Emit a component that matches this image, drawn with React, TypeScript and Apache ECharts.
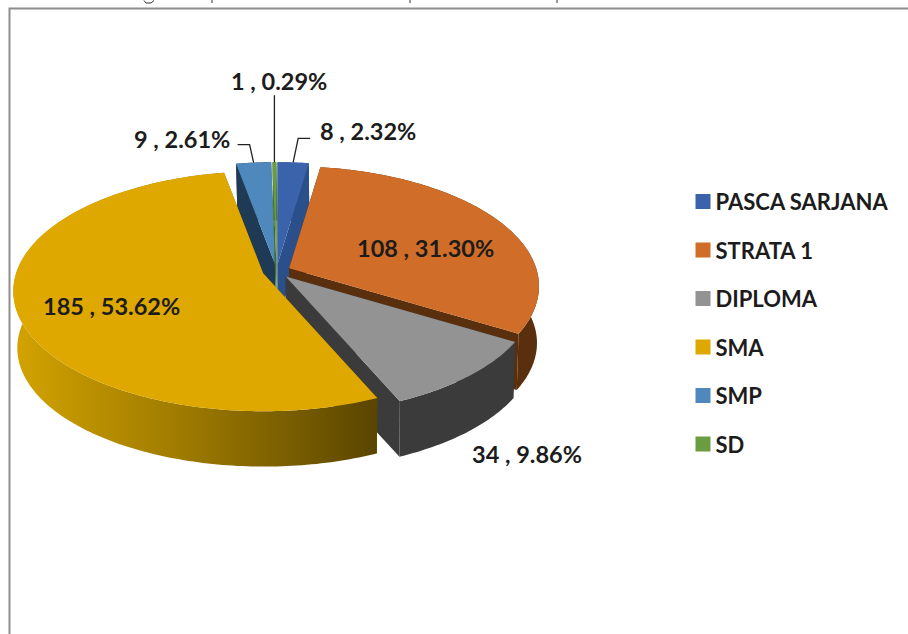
import React, { useEffect, useRef } from "react";
import * as echarts from "echarts";

const categories = ["PASCA SARJANA", "STRATA 1", "DIPLOMA", "SMA", "SMP", "SD"];
const values = [8, 108, 34, 185, 9, 1];
const topColors = ["#3a63ab", "#d06d28", "#939393", "#dfa800", "#4e88bd", "#6a9d3f"];
const sideColors = ["#2b4f8a", "#5a2f0d", "#3b3b3b", "#8a6a00", "#1f3a55", "#3e6b2a"];
// back-to-front painting order of the slices
const drawOrder = [4, 5, 0, 1, 2, 3];

const total = values.reduce((a, b) => a + b, 0);
const starts: number[] = [];
values.reduce((acc, v, i) => {
  starts[i] = acc;
  return acc + (v / total) * 360;
}, 0);
const ends = values.map((v, i) => starts[i] + (v / total) * 360);
const pctLabel = (i: number) => `${values[i]} , ${((values[i] / total) * 100).toFixed(2)}%`;

// projection of the tilted pie
const CX = 276.5, CY = 271.2, RX = 247, RY = 117.3, PERSP = 0.15, DEPTH = 57, BOTTOM_SCALE = 0.988, BOTTOM_SHIFT = 1;
const EXPLODE_X = 14, EXPLODE_Y = 7;
const rad = (d: number) => (d * Math.PI) / 180;

const apexOf = (i: number) => {
  const mid = rad((starts[i] + ends[i]) / 2);
  return [CX + EXPLODE_X * Math.sin(mid), CY - EXPLODE_Y * Math.cos(mid)];
};
const project = (a: number[], deg: number, bottom: boolean) => {
  const t = rad(deg);
  const w = 1 + PERSP * Math.cos(t);
  const s = bottom ? BOTTOM_SCALE : 1;
  return [
    a[0] + (RX * s * Math.sin(t)) / w + (bottom ? BOTTOM_SHIFT : 0),
    a[1] - (RY * s * Math.cos(t)) / w + (bottom ? DEPTH : 0),
  ];
};
const arc = (a: number[], from: number, to: number, bottom: boolean) => {
  const n = Math.max(2, Math.ceil(Math.abs(to - from)));
  const pts: number[][] = [];
  for (let k = 0; k <= n; k++) pts.push(project(a, from + ((to - from) * k) / n, bottom));
  return pts;
};

// label placement: [x of left edge, y of middle]
const labelPos: number[][] = [
  [320, 131],
  [357, 248],
  [472, 454],
  [43, 306],
  [134, 139],
  [231, 81],
];
// leader lines: offsets of the knee / end from the slice's rim middle
const leaders: Record<number, number[][]> = {
  0: [[5, -24], [17, -24]],
  4: [[-4, -18], [-16, -18]],
  5: [[0, -67]],
};

const smaGradient = new echarts.graphic.LinearGradient(0, 0, 1, 0, [
  { offset: 0, color: "#d3a300" },
  { offset: 0.5, color: "#9a7700" },
  { offset: 1, color: "#5a4500" },
]);

const renderSlice = (i: number) => () => {
  const a = apexOf(i);
  const s = starts[i], e = ends[i];
  const side = i === 3 ? smaGradient : sideColors[i];
  const apexBottom = [a[0], a[1] + DEPTH];
  const children: any[] = [];
  const poly = (points: number[][], fill: any) =>
    children.push({ type: "polygon", shape: { points }, style: { fill, stroke: "none" }, silent: true });

  // cut faces
  poly([a, project(a, s, false), project(a, s, true), apexBottom], sideColors[i]);
  poly([a, project(a, e, false), project(a, e, true), apexBottom], sideColors[i]);
  // outer wall
  poly([...arc(a, s, e, false), ...arc(a, e, s, true)], side);
  // top face
  poly([a, ...arc(a, s, e, false)], topColors[i]);

  if (leaders[i]) {
    const rim = project(a, (s + e) / 2, false);
    const pts = [rim, ...leaders[i].map((o) => [rim[0] + o[0], rim[1] + o[1]])];
    children.push({
      type: "polyline",
      shape: { points: pts },
      style: { fill: "none", stroke: "#222222", lineWidth: 1.3 },
      silent: true,
    });
  }
  children.push({
    type: "text",
    x: labelPos[i][0],
    y: labelPos[i][1],
    z2: 50,
    silent: true,
    style: {
      text: pctLabel(i),
      fill: "#1c1c1c",
      font: "bold 23.5px Lato",
      textAlign: "left",
      textVerticalAlign: "middle",
    },
  });
  return { type: "group", children };
};

export default function App() {
  const ref = useRef<HTMLDivElement>(null);
  useEffect(() => {
    document.body.style.margin = "0";
    const chart = echarts.init(ref.current!, undefined, { renderer: "svg" });
    chart.setOption({
      animation: false,
      backgroundColor: "#ffffff",
      legend: {
        data: categories,
        orient: "vertical",
        left: 690.5,
        top: 185.5,
        icon: "rect",
        itemWidth: 15,
        itemHeight: 15,
        itemGap: 26.5,
        selectedMode: false,
        textStyle: {
          fontFamily: "Lato",
          fontWeight: "bold",
          fontSize: 22,
          lineHeight: 20,
          color: "#1c1c1c",
        },
      },
      graphic: [
        {
          type: "polyline",
          shape: { points: [[9.5, 634], [9.5, 8.5], [908, 8.5]] },
          style: { fill: "none", stroke: "#8e8e8e", lineWidth: 2 },
          silent: true,
        },
        {
          type: "polyline",
          shape: { points: [[144, 0.5], [146, 3], [151, 3], [154, 0.5]] },
          style: { fill: "none", stroke: "#333333", lineWidth: 1 },
          silent: true,
        },
        ...[212, 410, 557].map((x) => ({
          type: "line",
          shape: { x1: x, y1: 0, x2: x, y2: 3 },
          style: { stroke: "#333333", lineWidth: 1 },
          silent: true,
        })),
      ],
      series: drawOrder.map((i) => ({
        type: "custom",
        name: categories[i],
        coordinateSystem: "none",
        data: [values[i]],
        itemStyle: { color: topColors[i] },
        renderItem: renderSlice(i),
        silent: true,
      })),
    });
    return () => chart.dispose();
  }, []);
  return <div ref={ref} style={{ position: "absolute", left: 0, top: 0, width: 908, height: 634 }} />;
}
